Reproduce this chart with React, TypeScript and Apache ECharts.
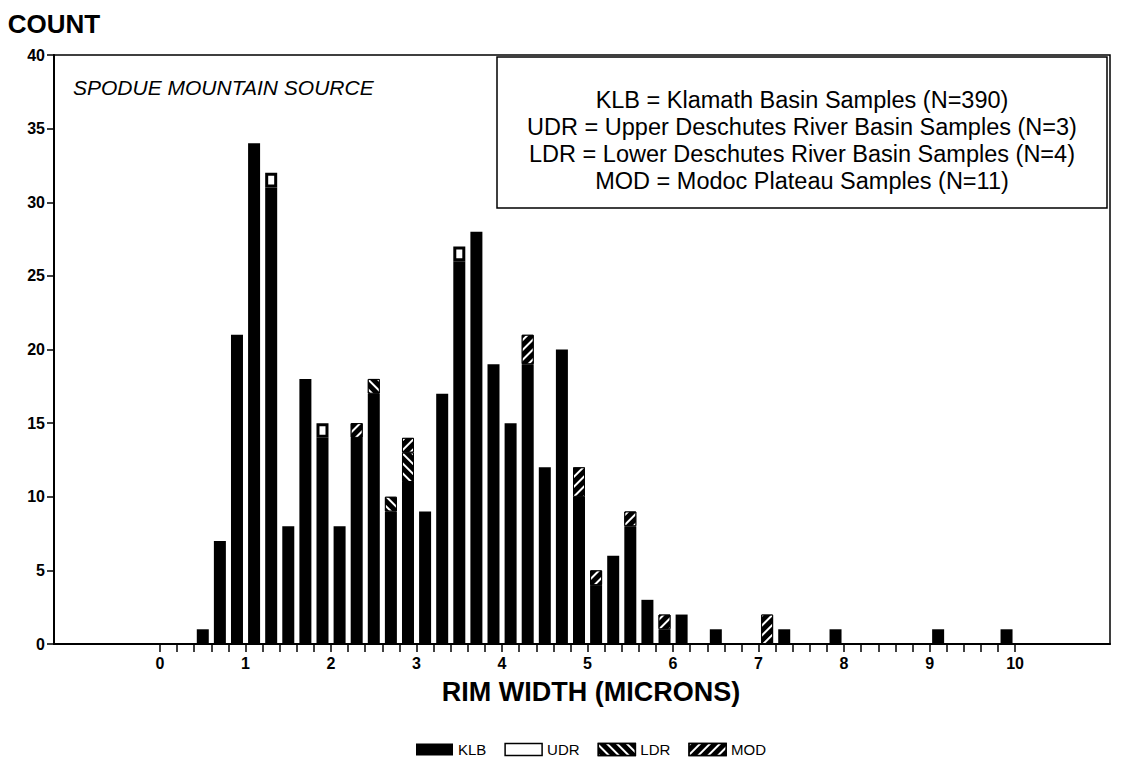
import React, { useEffect, useRef } from 'react';
import * as echarts from 'echarts';

// Bin centres (microns); each bar covers a 0.2-micron bin
const binCenters = [0.5, 0.7, 0.9, 1.1, 1.3, 1.5, 1.7, 1.9, 2.1, 2.3, 2.5, 2.7, 2.9, 3.1, 3.3, 3.5, 3.7, 3.9, 4.1, 4.3, 4.5, 4.7, 4.9, 5.1, 5.3, 5.5, 5.7, 5.9, 6.1, 6.5, 7.1, 7.3, 7.9, 9.1, 9.9];
const klbCounts = [1, 7, 21, 34, 31, 8, 18, 14, 8, 14, 17, 9, 11, 9, 17, 26, 28, 19, 15, 19, 12, 20, 10, 4, 6, 8, 3, 1, 2, 1, null, 1, 1, 1, 1];
const udrCounts = [null, null, null, null, 1, null, null, 1, null, null, null, null, null, null, null, 1, null, null, null, null, null, null, null, null, null, null, null, null, null, null, null, null, null, null, null];
const ldrCounts = [null, null, null, null, null, null, null, null, null, null, 1, 1, 2, null, null, null, null, null, null, null, null, null, null, null, null, null, null, null, null, null, null, null, null, null, null];
const modCounts = [null, null, null, null, null, null, null, null, null, 1, null, null, 1, null, null, null, null, null, null, 2, null, null, 2, 1, null, 1, null, 1, null, null, 2, null, null, null, null];

const xTickLabels = [0, 1, 2, 3, 4, 5, 6, 7, 8, 9, 10];
const minorSteps = [0, 0.2, 0.4, 0.6, 0.8];
const boxLines = [
  'KLB = Klamath Basin Samples (N=390)',
  'UDR = Upper Deschutes River Basin Samples (N=3)',
  'LDR = Lower Deschutes River Basin Samples (N=4)',
  'MOD = Modoc Plateau Samples (N=11)',
];

const FONT = '"Liberation Sans", Arial, Helvetica, sans-serif';

export default function App() {
  const ref = useRef<HTMLDivElement>(null);

  useEffect(() => {
    const chart = echarts.init(ref.current as HTMLDivElement, null, { renderer: 'svg' });
    // data rows are [count, binCentre] so that the count dimension is the stacked one
    const toRows = (arr: (number | null)[]) =>
      binCenters.map((x, i) => [arr[i] == null ? '-' : arr[i], x]);

    const tickValues: number[] = [];
    xTickLabels.forEach((t) => {
      if (t < 10) minorSteps.forEach((s) => tickValues.push(Math.round((t + s) * 10) / 10));
      else tickValues.push(t);
    });

    const hatch = (rotation: number) => ({
      symbol: 'rect',
      color: '#ffffff',
      dashArrayX: [1, 0],
      dashArrayY: [1.6, 5],
      rotation,
    });

    const barBase = {
      type: 'bar',
      stack: 'total',
      barWidth: 12,
      encode: { x: 1, y: 0 },
    };

    chart.setOption({
      animation: false,
      backgroundColor: '#ffffff',
      textStyle: { fontFamily: FONT, color: '#000' },
      grid: {
        left: 54,
        right: 15,
        top: 55,
        bottom: 123,
        show: true,
        borderColor: '#000',
        borderWidth: 1.5,
        backgroundColor: 'transparent',
      },
      legend: {
        data: [
          { name: 'KLB' },
          { name: 'UDR', itemStyle: { borderWidth: 1.5 } },
          { name: 'LDR', itemStyle: { borderWidth: 1.5 } },
          { name: 'MOD', itemStyle: { borderWidth: 1.5 } },
        ],
        left: 416,
        top: 742,
        padding: 0,
        itemWidth: 37,
        itemHeight: 12,
        itemGap: 18,
        icon: 'rect',
        textStyle: { fontFamily: FONT, fontSize: 15, color: '#000' },
      },
      xAxis: {
        type: 'value',
        min: -1.24,
        max: 11.11,
        name: 'RIM WIDTH (MICRONS)',
        nameLocation: 'middle',
        nameGap: 34,
        nameTextStyle: { fontFamily: FONT, fontSize: 27, fontWeight: 'bold', color: '#000', padding: [0, 0, 0, 18] },
        axisLine: { show: true, onZero: false, lineStyle: { color: '#000', width: 2 } },
        axisTick: { show: true, inside: false, length: 8, customValues: tickValues, lineStyle: { color: '#000', width: 1.5 } },
        axisLabel: { customValues: xTickLabels, margin: 11, fontSize: 16, fontWeight: 'bold', color: '#000', fontFamily: FONT },
        splitLine: { show: false },
      },
      yAxis: {
        type: 'value',
        min: 0,
        max: 40,
        interval: 5,
        name: 'COUNT',
        nameLocation: 'end',
        nameGap: 18,
        nameTextStyle: { fontFamily: FONT, fontSize: 26, fontWeight: 'bold', color: '#000', align: 'center' },
        axisLine: { show: true, onZero: false, lineStyle: { color: '#000', width: 2 } },
        axisTick: { show: true, inside: false, length: 7, lineStyle: { color: '#000', width: 1.5 } },
        axisLabel: { margin: 9, fontSize: 16, fontWeight: 'bold', color: '#000', fontFamily: FONT },
        splitLine: { show: false },
      },
      graphic: [
        {
          type: 'text',
          left: 73,
          top: 77,
          style: { text: 'SPODUE MOUNTAIN SOURCE', font: `italic 21px ${FONT}`, fill: '#000' },
        },
        {
          type: 'rect',
          shape: { x: 497, y: 57, width: 610, height: 151 },
          style: { fill: '#fff', stroke: '#000', lineWidth: 1.5 },
          z: 10,
        },
        ...boxLines.map((t, i) => ({
          type: 'text',
          x: 802,
          y: 100 + i * 27,
          z: 11,
          style: { text: t, font: `23.5px ${FONT}`, fill: '#000', align: 'center', verticalAlign: 'middle' },
        })),
      ],
      series: [
        { ...barBase, name: 'KLB', itemStyle: { color: '#000' }, data: toRows(klbCounts) },
        {
          ...barBase,
          name: 'UDR',
          itemStyle: { color: '#fff', borderColor: '#000', borderWidth: 3 },
          data: toRows(udrCounts),
        },
        {
          ...barBase,
          name: 'LDR',
          itemStyle: { color: '#000', borderColor: '#000', borderWidth: 1, decal: hatch(Math.PI / 4) },
          data: toRows(ldrCounts),
        },
        {
          ...barBase,
          name: 'MOD',
          itemStyle: { color: '#000', borderColor: '#000', borderWidth: 1, decal: hatch(-Math.PI / 4) },
          data: toRows(modCounts),
        },
      ],
    });
    return () => chart.dispose();
  }, []);

  return (
    <div
      ref={ref}
      style={{ position: 'fixed', left: 0, top: 0, width: 1125, height: 767, background: '#fff' }}
    />
  );
}
